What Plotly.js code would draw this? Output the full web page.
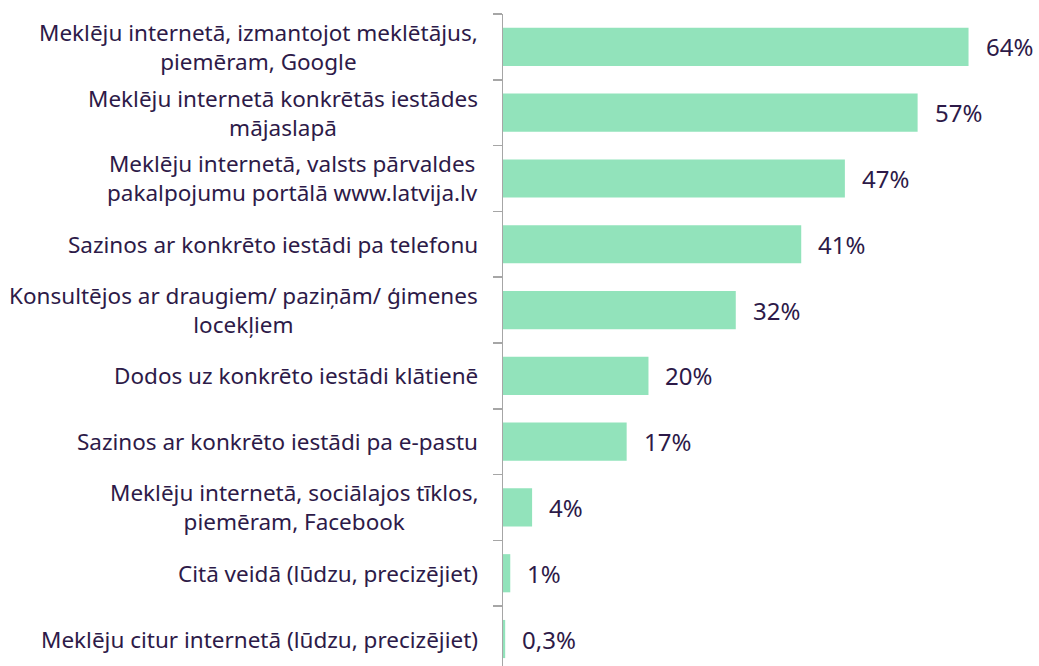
<!DOCTYPE html>
<html>
<head>
<meta charset="utf-8">
<script src="https://cdn.plot.ly/plotly-3.0.1.min.js"></script>
<style>html,body{margin:0;padding:0;background:#fff;}#chart{width:1039px;height:666px;}</style>
</head>
<body>
<div id="chart"></div>
<script>
const categories = [
  "Meklēju internetā, izmantojot meklētājus,<br>piemēram, Google",
  "Meklēju internetā konkrētās iestādes<br>mājaslapā",
  "Meklēju internetā, valsts pārvaldes<br>pakalpojumu portālā www.latvija.lv",
  "Sazinos ar konkrēto iestādi pa telefonu",
  "Konsultējos ar draugiem/ paziņām/ ģimenes<br>locekļiem",
  "Dodos uz konkrēto iestādi klātienē",
  "Sazinos ar konkrēto iestādi pa e-pastu",
  "Meklēju internetā, sociālajos tīklos,<br>piemēram, Facebook",
  "Citā veidā (lūdzu, precizējiet)",
  "Meklēju citur internetā (lūdzu, precizējiet)"
];
const values = [64, 57, 47, 41, 32, 20, 17, 4, 1, 0.3];
const valueLabels = ["64%", "57%", "47%", "41%", "32%", "20%", "17%", "4%", "1%", "0,3%"];

const textColor = "#2d1a48";
const fontFamily = "'Noto Sans', 'Open Sans', sans-serif";

const trace = {
  type: "bar",
  orientation: "h",
  x: values,
  y: categories,
  marker: {color: "#92e3bb"},
  hoverinfo: "none"
};

const annotations = [];
categories.forEach((c, i) => {
  annotations.push({
    xref: "paper", yref: "y", x: 0, y: c,
    xanchor: "right", yanchor: "middle", xshift: -23,
    text: c, showarrow: false, align: "center",
    font: {family: fontFamily, size: 22.5, color: textColor}
  });
  annotations.push({
    xref: "x", yref: "y", x: values[i], y: c,
    xanchor: "left", yanchor: "middle", xshift: 15,
    text: valueLabels[i], showarrow: false,
    font: {family: fontFamily, size: 24, color: textColor}
  });
});

const layout = {
  width: 1039, height: 666,
  margin: {l: 503, r: 5, t: 14, b: 0, pad: 0},
  paper_bgcolor: "#fff", plot_bgcolor: "#fff",
  showlegend: false,
  bargap: 0.42,
  xaxis: {range: [0, 73], visible: false, fixedrange: true},
  yaxis: {
    type: "category",
    range: [9.41, -0.5],
    showticklabels: false,
    showgrid: false, zeroline: false,
    showline: true, linecolor: "#a6a6a6", linewidth: 1.5,
    ticks: "outside", tickson: "boundaries", ticklen: 9, tickcolor: "#a6a6a6", tickwidth: 1.5,
    fixedrange: true
  },
  annotations: annotations
};

Plotly.newPlot("chart", [trace], layout, {displayModeBar: false, staticPlot: true});
</script>
</body>
</html>
